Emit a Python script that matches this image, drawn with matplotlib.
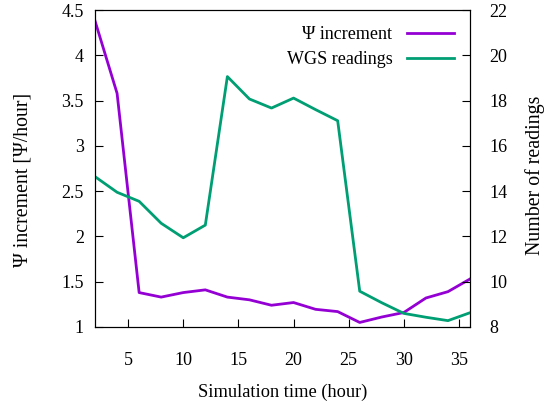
import numpy as np
import matplotlib.pyplot as plt

plt.rcParams['font.family'] = ['Liberation Serif', 'DejaVu Serif']
plt.rcParams['font.size'] = 13

hours = [2, 4, 6, 8, 10, 12, 14, 16, 18, 20, 22, 24, 26, 28, 30, 32, 34, 36]
psi_increment = [4.38, 3.58, 1.38, 1.33, 1.38, 1.41, 1.33, 1.30, 1.24, 1.27,
                 1.195, 1.17, 1.05, 1.11, 1.16, 1.32, 1.39, 1.53]
wgs_readings = [14.64, 13.95, 13.55, 12.58, 11.94, 12.5, 19.06, 18.07, 17.67, 18.11,
                17.6, 17.11, 9.58, 9.07, 8.6, 8.43, 8.28, 8.63]

fig = plt.figure(figsize=(5.48, 4.07), dpi=100)
ax = fig.add_axes([0.1734, 0.1966, 0.6843, 0.7788])
ax2 = ax.twinx()

l1, = ax.plot(hours, psi_increment, color='#9400d3', lw=2, label='\u03a8 increment')
l2, = ax2.plot(hours, wgs_readings, color='#009e73', lw=2, label='WGS readings')

ax.set_xlim(2, 36)
ax.set_ylim(1, 4.5)
ax2.set_ylim(8, 22)
ax.set_xticks([5, 10, 15, 20, 25, 30, 35])
ax.set_yticks(np.arange(1, 4.51, 0.5))
ax.set_yticklabels(['1', '1.5', '2', '2.5', '3', '3.5', '4', '4.5'])
ax2.set_yticks(np.arange(8, 23, 2))

ax.tick_params(direction='in', length=6, width=0.8, pad=8)
ax.tick_params(axis='x', pad=18)
ax2.tick_params(direction='in', length=6, width=0.8, pad=14)

ax.set_xlabel('Simulation time (hour)', fontsize=13.2)
ax.set_ylabel('\u03a8 increment [\u03a8/hour]', fontsize=14.3)
ax2.set_ylabel('Number of readings', fontsize=14.3)
ax.xaxis.set_label_coords(0.5, -0.18)
ax.yaxis.set_label_coords(-0.168, 0.464)
ax2.yaxis.set_label_coords(1.147, 0.48)

ax.legend(handles=[l1, l2], loc='upper right', frameon=False, markerfirst=False,
          handlelength=2.6, borderaxespad=0.5, labelspacing=0.45)

fig.savefig('out.png', dpi=100)
